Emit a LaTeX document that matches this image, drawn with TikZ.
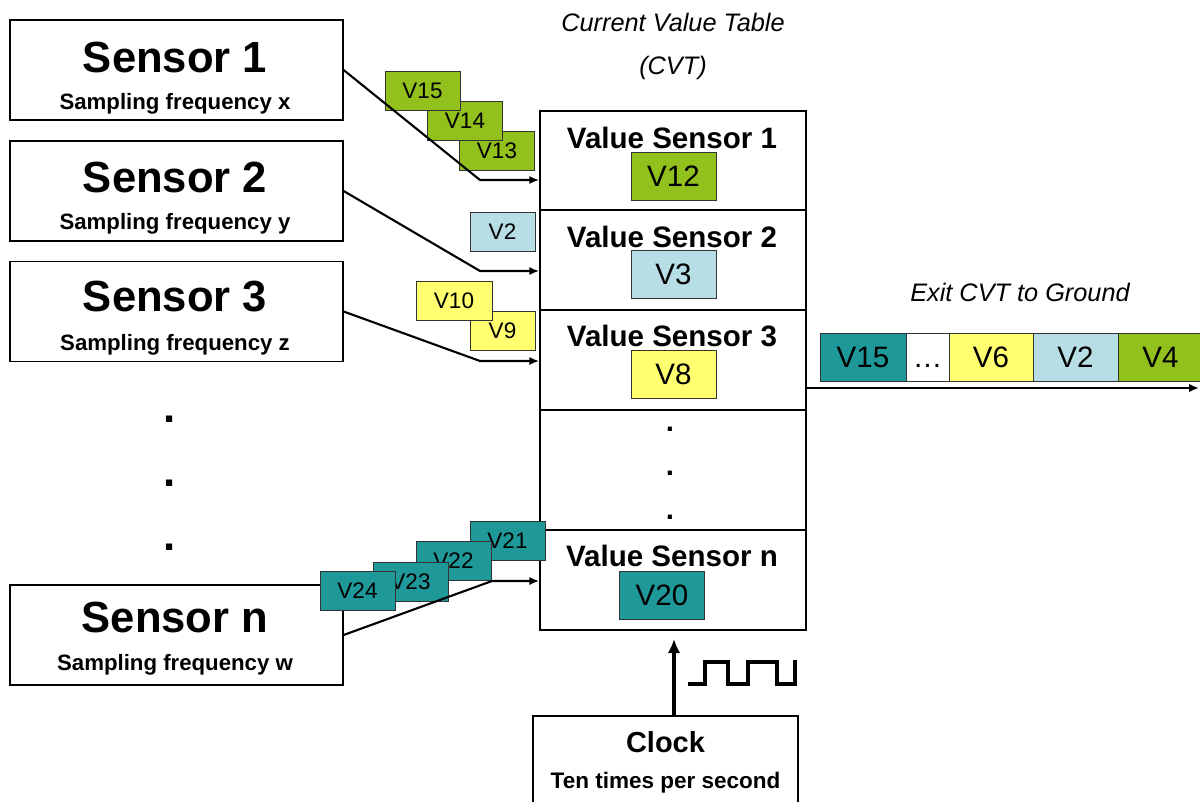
\documentclass[tikz,border=0pt]{standalone}
\usepackage{fontspec}
\setmainfont{Liberation Sans}
\usetikzlibrary{positioning,arrows.meta}
\definecolor{vgreen}{RGB}{146,192,28}
\definecolor{vteal}{RGB}{30,152,152}
\definecolor{vblue}{RGB}{183,221,229}
\definecolor{vyellow}{RGB}{255,255,112}
\begin{document}
\begin{tikzpicture}[x=0.025cm,y=-0.025cm,
  sensorbox/.style={draw, line width=0.8pt, minimum width=8.325cm, minimum height=2.5cm, inner sep=0pt},
  rowbox/.style={draw, line width=1.2pt, minimum width=6.65cm, inner sep=0pt},
  bigtxt/.style={font=\fontsize{31}{31}\selectfont\bfseries},
  subtxt/.style={font=\fontsize{15.8}{16}\selectfont\bfseries},
  rowtxt/.style={font=\fontsize{21}{21}\selectfont\bfseries},
  ttltxt/.style={font=\fontsize{18}{18}\selectfont\itshape},
  vbig/.style={draw=black!80, line width=0.6pt, minimum width=2.125cm, minimum height=1.2cm, inner sep=0pt, font=\fontsize{21}{21}\selectfont},
  vsmall/.style={draw=black!80, line width=0.6pt, minimum width=1.875cm, minimum height=0.975cm, inner sep=0pt, font=\fontsize{16}{16}\selectfont},
  link/.style={line width=1.5pt, -{Latex[length=7pt,width=6pt]}}]
\useasboundingbox (0,0) rectangle (1200,801);

\node[sensorbox] (s1) at (176.5,70) {};
\node[sensorbox] (s2) at (176.5,191) {};
\node[sensorbox] (s3) at (176.5,311.5) {};
\node[sensorbox] (sn) at (176.5,635) {};
\node[bigtxt] at (175,57) {Sensor 1};
\node[subtxt] at (175,104) {Sampling frequency x};
\node[bigtxt] at (175,177) {Sensor 2};
\node[subtxt] at (175,224) {Sampling frequency y};
\node[bigtxt] at (175,297) {Sensor 3};
\node[subtxt] at (175,345) {Sampling frequency z};
\node[bigtxt] at (175,617) {Sensor n};
\node[subtxt] at (175,665) {Sampling frequency w};
\node[bigtxt, anchor=base] (d1) at (170,422) {.};
\node[bigtxt, anchor=base] (d2) at (170,486) {.};
\node[bigtxt, anchor=base] (d3) at (170,550) {.};

\node[ttltxt] (ttl1) at (673,22) {Current Value Table};
\node[ttltxt] (ttl2) at (673,68) {(CVT)};
\node[rowbox, minimum height=2.475cm] (row1) at (673,160.5) {};
\node[rowbox, minimum height=2.5cm] (row2) at (673,260) {};
\node[rowbox, minimum height=2.5cm] (row3) at (673,360) {};
\node[rowbox, minimum height=3cm] (rowd) at (673,470) {};
\node[rowbox, minimum height=2.5cm] (rown) at (673,580) {};
\node[rowtxt] at (672,138) {Value Sensor 1};
\node[vbig, fill=vgreen] (v12) at (673.5,176) {V12};
\node[rowtxt] at (672,237) {Value Sensor 2};
\node[vbig, fill=vblue] (v3) at (673.5,274.5) {V3};
\node[rowtxt] at (672,336) {Value Sensor 3};
\node[vbig, fill=vyellow] (v8) at (673.5,374) {V8};
\node[rowtxt] at (672,556) {Value Sensor n};
\node[vbig, fill=vteal] (v20) at (662,595) {V20};
\node[rowtxt, anchor=base] at (670,431) {.};
\node[rowtxt, anchor=base] at (670,475) {.};
\node[rowtxt, anchor=base] at (670,519) {.};

\node[vsmall, fill=vgreen] (v13) at (497,151) {V13};
\node[vsmall, fill=vgreen] (v14) at (465,121) {V14};
\node[vsmall, fill=vgreen] (v15) at (422.5,90.5) {V15};
\node[vsmall, fill=vblue, minimum width=1.625cm] (v2) at (502.5,231.5) {V2};
\node[vsmall, fill=vyellow, minimum width=1.625cm] (v9) at (502.5,331) {V9};
\node[vsmall, fill=vyellow, minimum width=1.9cm] (v10) at (454,301) {V10};
\node[vsmall, fill=vteal] (v21) at (507.5,540.5) {V21};
\node[vsmall, fill=vteal] (v22) at (453.5,561) {V22};
\node[vsmall, fill=vteal] (v23) at (410.5,581.5) {V23};
\node[vsmall, fill=vteal] (v24) at (357.5,590.5) {V24};

\coordinate (k1) at (480,180);
\coordinate (k2) at (480,271);
\coordinate (k3) at (480,361);
\coordinate (kn) at (492,581);
\draw[link] (s1.east) -- (k1) -- (k1 -| row1.west);
\draw[link] (s2.east) -- (k2) -- (k2 -| row2.west);
\draw[link] (s3.east) -- (k3) -- (k3 -| row3.west);
\draw[link] (sn.east) -- (kn) -- (kn -| rown.west);

\node[ttltxt] (exittxt) at (1020,292) {Exit CVT to Ground};
\node[vbig, fill=vteal, minimum width=2.15cm] (o15) at (863,357) {V15};
\node[vbig, minimum width=1.075cm] (odots) at (927.5,357) {\vphantom{V}\dots};
\node[vbig, fill=vyellow, minimum width=2.1cm] (o6) at (991,357) {V6};
\node[vbig, fill=vblue] (o2) at (1075.5,357) {V2};
\node[vbig, fill=vgreen] (o4) at (1160.5,357) {V4};
\coordinate (exit) at (1199,388);
\draw[link] (exit -| row3.east) -- (exit);

\node[draw, line width=0.8pt, minimum width=6.625cm, minimum height=2.85cm, inner sep=0pt] (clock) at (665.5,773) {};
\node[font=\fontsize{20.6}{21}\selectfont\bfseries] at (665.5,742) {Clock};
\node[subtxt, font=\fontsize{16}{16}\selectfont\bfseries] at (665.5,783) {Ten times per second};
\coordinate (tick) at (674,639);
\draw[line width=2.4pt, -{Latex[length=10pt,width=9pt]}] (tick |- clock.north) -- (tick);
\draw[line width=3pt] (688,684) -- (705,684) -- (705,662) -- (728,662) -- (728,684) -- (748,684) -- (748,662) -- (777,662) -- (777,684) -- (795,684) -- (795,660);
\end{tikzpicture}
\end{document}
